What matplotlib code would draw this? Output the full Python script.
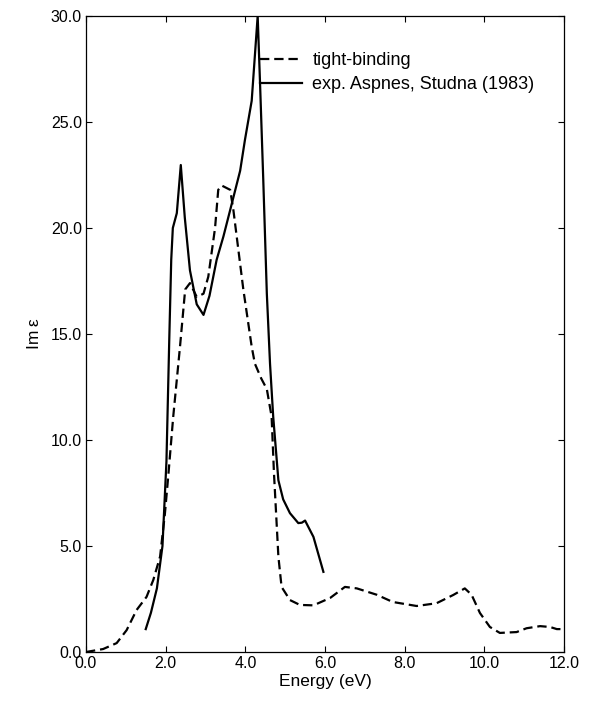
import matplotlib
matplotlib.use("Agg")
import matplotlib.pyplot as plt
from matplotlib.ticker import FormatStrFormatter, MultipleLocator

# === Datos ===
# tight-binding (línea discontinua)
e_tb = [0.0, 0.43, 0.77, 1.02, 1.27, 1.52, 1.69, 1.86, 1.98, 2.07, 2.19, 2.36, 2.49,
        2.61, 2.78, 2.95, 3.07, 3.24, 3.32, 3.41, 3.62, 3.70, 3.95, 4.16, 4.24, 4.40,
        4.54, 4.66, 4.72, 4.83, 4.91, 5.12, 5.37, 5.71, 6.13, 6.50, 6.80, 7.30, 7.70,
        8.30, 8.80, 9.22, 9.51, 9.68, 9.89, 10.14, 10.39, 10.81, 11.06, 11.40, 11.65,
        11.82, 12.0]
im_tb = [0.0, 0.14, 0.42, 1.03, 1.98, 2.6, 3.4, 4.5, 6.5, 8.4, 11.1, 14.4, 17.1,
         17.4, 16.75, 16.9, 17.7, 20.0, 21.8, 22.0, 21.8, 20.85, 17.1, 14.4, 13.6, 12.9,
         12.4, 11.1, 8.4, 4.5, 3.07, 2.45, 2.22, 2.2, 2.55, 3.07, 3.0, 2.7, 2.36,
         2.17, 2.3, 2.69, 3.0, 2.7, 1.84, 1.18, 0.9, 0.94, 1.12, 1.22, 1.18,
         1.08, 1.08]

# exp. Aspnes, Studna (1983) (línea continua)
e_exp = [1.50, 1.63, 1.78, 1.92, 2.02, 2.09, 2.14, 2.18, 2.28, 2.38, 2.48, 2.61,
         2.78, 2.95, 3.10, 3.28, 3.45, 3.62, 3.87, 3.99, 4.16, 4.31, 4.37, 4.45,
         4.54, 4.62, 4.70, 4.83, 4.95, 5.12, 5.33, 5.42, 5.50, 5.71, 5.96]
im_exp = [1.08, 1.85, 3.0, 5.0, 9.0, 14.7, 18.5, 20.0, 20.7, 22.97, 20.5, 18.0,
          16.4, 15.9, 16.8, 18.5, 19.6, 20.85, 22.7, 24.15, 26.0, 30.0, 26.8, 22.3,
          16.9, 13.6, 11.1, 8.1, 7.2, 6.55, 6.08, 6.1, 6.2, 5.43, 3.78]

etiquetas = ["tight-binding", "exp. Aspnes, Studna (1983)"]

plt.rcParams["font.family"] = ["Liberation Sans", "DejaVu Sans"]

fig = plt.figure(figsize=(5.91, 7.01), dpi=100)
ax = fig.add_axes([0.1455, 0.0699, 0.8088, 0.9073])

ax.plot(e_tb, im_tb, color="black", lw=1.6, dashes=(4.2, 2.2), label=etiquetas[0])
ax.plot(e_exp, im_exp, color="black", lw=1.6, label=etiquetas[1])

ax.set_xlim(0, 12)
ax.set_ylim(0, 30)
ax.xaxis.set_major_locator(MultipleLocator(2))
ax.yaxis.set_major_locator(MultipleLocator(5))
ax.xaxis.set_major_formatter(FormatStrFormatter("%.1f"))
ax.yaxis.set_major_formatter(FormatStrFormatter("%.1f"))
ax.tick_params(direction="in", top=True, right=True, length=4, width=0.8,
               labelsize=11.5, pad=3)
for s in ax.spines.values():
    s.set_linewidth(0.9)

ax.set_xlabel("Energy (eV)", fontsize=12.5, labelpad=2)
ax.set_ylabel("Im\u2009\u03b5", fontsize=12.5, labelpad=6)

leg = ax.legend(loc="upper left", bbox_to_anchor=(0.364, 0.943), frameon=False,
                fontsize=13, handlelength=2.3, handletextpad=0.6,
                labelspacing=0.38, borderaxespad=0, borderpad=0)

fig.savefig("out.png", dpi=100)
